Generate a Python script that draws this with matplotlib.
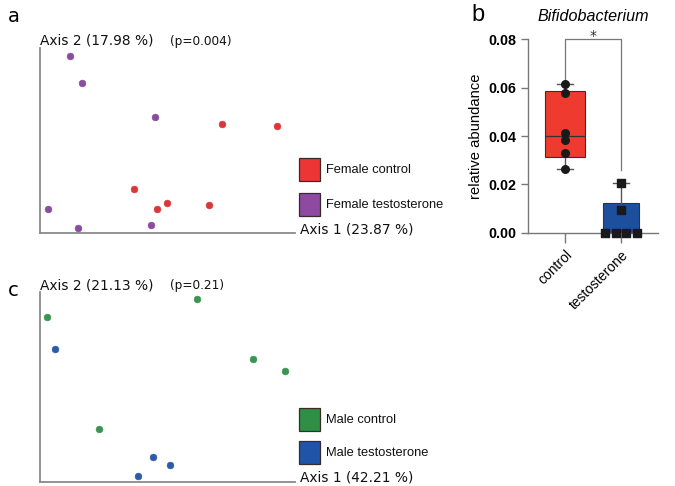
import numpy as np
import matplotlib
matplotlib.use('Agg')
import matplotlib.pyplot as plt
from matplotlib.patches import Rectangle

# ---- data (PCoA coordinates, arbitrary units) ----
fem_ctrl_x = [0.714, 0.928, 0.367, 0.497, 0.459, 0.662]
fem_ctrl_y = [0.591, 0.580, 0.238, 0.164, 0.130, 0.153]
fem_t_x = [0.116, 0.164, 0.450, 0.030, 0.149, 0.435]
fem_t_y = [0.957, 0.809, 0.625, 0.131, 0.025, 0.042]

male_ctrl_x = [0.615, 0.029, 0.834, 0.962, 0.230]
male_ctrl_y = [0.965, 0.867, 0.648, 0.585, 0.279]
male_t_x = [0.059, 0.443, 0.511, 0.385]
male_t_y = [0.701, 0.129, 0.086, 0.030]

# Bifidobacterium relative abundance
groups = ['control', 'testosterone']
bif_ctrl = [0.0615, 0.0579, 0.0414, 0.0383, 0.0331, 0.0265]
bif_t = [0.0205, 0.0093, 0.0, 0.0, 0.0, 0.0]

W, H = 675, 486
fig = plt.figure(figsize=(6.75, 4.86), dpi=100)


def fx(px):
    return px / W


def fy(py):
    return 1 - py / H


def pcoa_panel(rect, xs, ys, cols, ax2_lab, p_lab, ax1_lab, top_px, bot_px):
    ax = fig.add_axes(rect)
    for x, y, c in zip(xs, ys, cols):
        ax.scatter(x, y, s=24, color=c, edgecolor=c, linewidths=0.4, zorder=3)
    ax.set_xlim(0, 1)
    ax.set_ylim(0, 1)
    for s in ['top', 'right']:
        ax.spines[s].set_visible(False)
    for s in ['left', 'bottom']:
        ax.spines[s].set_color('#8a8a8a')
        ax.spines[s].set_linewidth(1.3)
    ax.set_xticks([])
    ax.set_yticks([])
    ax.patch.set_alpha(0)
    fig.text(fx(40), fy(top_px - 7), ax2_lab, fontsize=9.9, family='DejaVu Sans',
             va='center', ha='left', color='#111111')
    fig.text(fx(170), fy(top_px - 6), p_lab, fontsize=8.7, family='DejaVu Sans',
             va='center', ha='left', color='#111111')
    fig.text(fx(300), fy(bot_px - 4), ax1_lab, fontsize=9.9, family='DejaVu Sans',
             va='center', ha='left', color='#111111')
    return ax


def legend_box(y0, color, label):
    fig.add_artist(Rectangle((fx(299), fy(y0 + 23)), 21 / W, 23 / H,
                             transform=fig.transFigure, facecolor=color,
                             edgecolor='#3a2a2a', linewidth=0.9))
    fig.text(fx(326), fy(y0 + 12), label, fontsize=9.3, family='Liberation Sans',
             va='center', ha='left', color='#111111')


red = '#d9383a'
purple = '#8a4c9e'
green = '#3a9550'
blue = '#2c5ba8'

# ---- panel a ----
pcoa_panel([fx(40), fy(233), fx(295) - fx(40), fy(48) - fy(233)],
           fem_ctrl_x + fem_t_x, fem_ctrl_y + fem_t_y,
           [red] * len(fem_ctrl_x) + [purple] * len(fem_t_x),
           'Axis 2 (17.98 %)', '(p=0.004)', 'Axis 1 (23.87 %)', 48, 233)
legend_box(158, '#ee3535', 'Female control')
legend_box(193, '#8e4aa3', 'Female testosterone')
fig.text(fx(8), fy(16), 'a', fontsize=14, family='DejaVu Sans', va='center', ha='left')

# ---- panel c ----
pcoa_panel([fx(40), fy(481.7), fx(295) - fx(40), fy(292) - fy(481.7)],
           male_ctrl_x + male_t_x, male_ctrl_y + male_t_y,
           [green] * len(male_ctrl_x) + [blue] * len(male_t_x),
           'Axis 2 (21.13 %)', '(p=0.21)', 'Axis 1 (42.21 %)', 292, 481.7)
legend_box(408, '#2f8f45', 'Male control')
legend_box(441, '#1f55a8', 'Male testosterone')
fig.text(fx(8), fy(291), 'c', fontsize=14, family='DejaVu Sans', va='center', ha='left')

# ---- panel b : box plot ----
axb = fig.add_axes([fx(528), fy(232.7), fx(658) - fx(528), fy(39.3) - fy(232.7)])
data_b = [bif_ctrl, bif_t]
box_cols = ['#ee3a2f', '#1d4f9f']
stats = []
for vals, name in zip(data_b, groups):
    v = np.array(vals)
    q1, med, q3 = np.percentile(v, [25, 50, 75], method='weibull')
    stats.append(dict(label=name, q1=q1, med=med, q3=q3,
                      whislo=v.min(), whishi=v.max(), fliers=[]))
bp = axb.bxp(stats, positions=[0, 1], widths=[0.70, 0.63], patch_artist=True,
             showfliers=False,
             medianprops=dict(color='#333333', linewidth=0.9),
             whiskerprops=dict(color='#555555', linewidth=1.0),
             capprops=dict(color='#555555', linewidth=1.0),
             boxprops=dict(linewidth=0.8))
for patch, c in zip(bp['boxes'], box_cols):
    patch.set_facecolor(c)
    patch.set_edgecolor('#333333')
for cap in bp['caps']:
    m = np.mean(cap.get_xdata())
    cap.set_xdata([m - 0.15, m + 0.15])

# points: control column, testosterone swarm for ties
axb.scatter(np.zeros(len(bif_ctrl)), bif_ctrl, s=30, color='#1a1a1a', marker='o', zorder=4)
vt = np.array(bif_t)
xt = np.ones(len(vt))
zeros = np.where(vt == 0)[0]
n0 = len(zeros)
xt[zeros] = 1 + (np.arange(n0) - (n0 - 1) / 2) * 0.19
axb.scatter(xt, vt, s=28, color='#1a1a1a', marker='s', zorder=4, clip_on=False)

axb.set_xlim(-0.66, 1.66)
axb.set_ylim(0, 0.08)
axb.set_yticks([0, 0.02, 0.04, 0.06, 0.08])
axb.set_yticklabels(['0.00', '0.02', '0.04', '0.06', '0.08'], fontsize=10.3,
                    fontweight='bold', family='Liberation Sans')
axb.set_xticks([0, 1])
axb.set_xticklabels(groups, rotation=45, ha='right', rotation_mode='anchor',
                    fontsize=10, family='Liberation Sans')
for s in ['top', 'right']:
    axb.spines[s].set_visible(False)
for s in ['left', 'bottom']:
    axb.spines[s].set_color('#777777')
    axb.spines[s].set_linewidth(1.0)
axb.tick_params(axis='both', color='#777777', length=5, width=1.0)
axb.tick_params(axis='x', length=7, pad=4)
axb.set_ylabel('relative abundance', fontsize=10.6, family='Liberation Sans', labelpad=4)
axb.set_title('Bifidobacterium', fontsize=11.6, style='italic',
              family='Liberation Sans', pad=13)
axb.patch.set_alpha(0)

# significance bracket
top = 0.08
axb.plot([0, 0, 1, 1], [max(bif_ctrl) + 0.001, top, top, max(bif_t) + 0.0055],
         color='#777777', linewidth=0.9, clip_on=False, zorder=2)
axb.text(0.5, top + 0.0012, '*', ha='center', va='center', fontsize=10, color='#333333')
fig.text(fx(478), fy(15), 'b', fontsize=17, family='Liberation Sans', va='center', ha='center')

fig.savefig('out.png', dpi=100)
